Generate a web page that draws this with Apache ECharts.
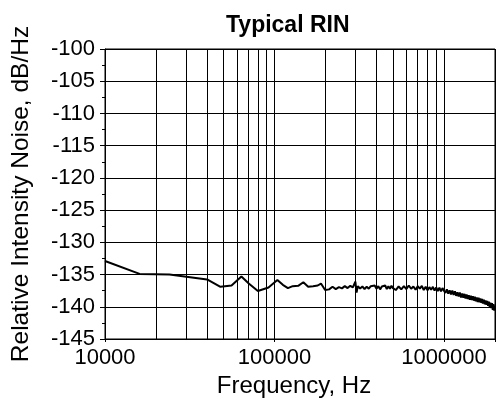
<!DOCTYPE html>
<html><head><meta charset="utf-8">
<script src="https://cdn.jsdelivr.net/npm/echarts/dist/echarts.min.js"></script>
<style>html,body{margin:0;padding:0;background:#fff}#c{width:498px;height:403px}</style>
</head><body><div id="c"></div>
<script>
const freqHz = [10000, 16000, 24000, 40000, 48000, 55800, 63800, 70500, 79800, 92200, 104000, 112000, 120000, 128000, 138000, 148000, 158000, 169000, 180000, 188000, 199000,
 210000, 220000, 230000, 240000, 250000, 260000, 270000, 280000, 290000, 300000, 305000, 310000, 320000, 330000, 340000, 350000, 360000, 370000, 380000, 390000, 400000,
 410000, 420000, 430000, 440000, 450000, 460000, 470000, 480000, 490000, 500000,
 520000, 540000, 560000, 580000, 600000, 620000, 640000, 660000, 680000, 700000, 720000, 740000, 760000, 780000, 800000,
 820000, 840000, 860000, 880000, 900000, 920000, 940000, 960000, 980000, 1000000, 1020000, 1040000, 1060000, 1080000, 1100000,
 1120000, 1140000, 1160000, 1180000, 1200000, 1220000, 1240000, 1260000, 1280000, 1300000, 1320000, 1340000, 1360000, 1380000, 1400000,
 1420000, 1440000, 1460000, 1480000, 1500000, 1520000, 1540000, 1560000, 1580000, 1600000, 1620000, 1640000, 1660000, 1680000, 1700000,
 1720000, 1740000, 1760000, 1780000, 1800000, 1820000, 1840000, 1860000, 1880000, 1900000, 1920000, 1940000, 1960000, 1980000, 2000000];
const rinDb = [-132.9, -134.9, -135.0, -135.75, -136.9, -136.7, -135.3, -136.4, -137.55, -137.0, -135.85, -136.6, -137.1, -136.8, -136.75, -136.2, -136.9, -136.8, -136.7, -136.4, -137.4,
 -137.3, -136.9, -137.25, -136.95, -137.15, -136.8, -137.1, -136.75, -137.0, -136.1, -137.8, -136.8, -137.15, -136.85, -137.25, -136.9, -137.2, -136.8, -137.1, -136.7, -137.2,
 -136.8, -137.3, -136.85, -137.15, -136.7, -137.25, -136.8, -137.2, -136.75, -137.1,
 -137.4, -136.85, -137.3, -136.8, -137.25, -136.7, -137.2, -136.85, -137.35, -136.8, -137.2, -136.75, -137.4, -136.9, -137.45,
 -136.95, -137.35, -136.9, -137.5, -137.0, -137.55, -137.05, -137.6, -137.1, -137.5, -137.85, -137.3, -137.95, -137.45, -138.1,
 -137.5, -138.15, -137.6, -138.3, -137.75, -138.4, -137.8, -138.55, -137.95, -138.6, -138.0, -138.7, -138.1, -138.8, -138.2,
 -138.9, -138.3, -138.95, -138.35, -139.05, -138.45, -139.15, -138.55, -139.25, -138.6, -139.3, -138.7, -139.4, -138.8, -139.5,
 -138.9, -139.6, -139.0, -139.7, -139.1, -139.85, -139.2, -140.0, -139.35, -140.2, -139.45, -140.5, -139.6, -140.6, -139.8];
const gridFreqs = [20000, 30000, 40000, 50000, 60000, 70000, 80000, 90000, 200000, 300000, 400000, 500000, 600000, 700000, 800000, 900000];
const xTickLabels = [10000, 100000, 1000000];
const yMin = -145, yMax = -100, yStep = 5;
const xMin = 10000, xMax = 2000000;

const FONT = 'Liberation Sans, Arial, Helvetica, sans-serif';
const chart = echarts.init(document.getElementById('c'));
chart.setOption({
  animation: false,
  backgroundColor: '#fff',
  title: {
    text: 'Typical RIN', left: 221, top: 9,
    textStyle: { fontFamily: FONT, fontSize: 23, fontWeight: 'bold', color: '#000' }
  },
  grid: { left: 105, top: 49, width: 392, height: 292, show: true, borderColor: '#000', borderWidth: 1 },
  xAxis: {
    type: 'log', logBase: 10, min: xMin, max: xMax,
    name: 'Frequency, Hz', nameLocation: 'middle', nameGap: 35,
    nameTextStyle: { fontFamily: FONT, fontSize: 24, color: '#000', padding: [0, 12, 0, 0] },
    axisLine: { lineStyle: { color: '#000', width: 1 } },
    axisTick: { show: true, length: 3, lineStyle: { color: '#000' } },
    axisLabel: {
      margin: 8, fontFamily: FONT, fontSize: 22, color: '#000',
      formatter: function (v) {
        for (const l of xTickLabels) { if (Math.abs(v - l) / l < 1e-6) return String(l); }
        return '';
      }
    },
    splitLine: { show: true, lineStyle: { color: '#000', width: 1 } }
  },
  yAxis: {
    type: 'value', min: yMin, max: yMax, interval: yStep,
    name: 'Relative Intensity Noise, dB/Hz', nameLocation: 'middle', nameGap: 71,
    nameTextStyle: { fontFamily: FONT, fontSize: 24.5, color: '#000' },
    axisLine: { show: true, lineStyle: { color: '#000', width: 1 } },
    axisTick: { show: true, length: 5, lineStyle: { color: '#000' } },
    minorTick: { show: true, splitNumber: 2, length: 3, lineStyle: { color: '#000' } },
    axisLabel: { margin: 10, fontFamily: FONT, fontSize: 22, color: '#000' },
    splitLine: { show: true, lineStyle: { color: '#000', width: 1 } }
  },
  series: [{
    type: 'line',
    data: freqHz.map((f, i) => [f, rinDb[i]]),
    showSymbol: false,
    lineStyle: { color: '#000', width: 2 },
    itemStyle: { color: '#000' },
    z: 5,
    markLine: {
      silent: true, symbol: ['none', 'none'], label: { show: false },
      lineStyle: { color: '#000', width: 1, type: 'solid' },
      data: gridFreqs.map(f => ({ xAxis: f })),
      z: 1
    }
  }]
});
</script>
</body></html>
